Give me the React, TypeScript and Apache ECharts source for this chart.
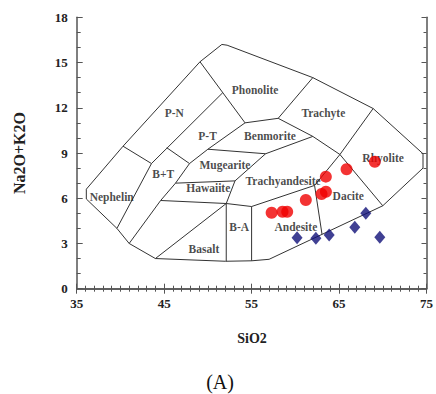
import React, { useEffect, useRef } from "react";
import * as echarts from "echarts";

const xTicks = [35, 45, 55, 65, 75];
const yTicks = [0, 3, 6, 9, 12, 15, 18];

// Field boundaries (SiO2, Na2O+K2O)
const outerBoundary = [
  [70, 5.5], [74.6, 8.0], [74.6, 8.95], [68.9, 11.95], [62.0, 14.0], [52.2, 16.15],
  [51.6, 16.2], [49.1, 15.05], [40.3, 9.45], [36.1, 6.6], [36.1, 5.95], [39.6, 4.0],
  [41.0, 3.0], [44.0, 2.0], [52.0, 1.82], [55.0, 1.85], [57.0, 1.95], [70, 5.5],
];
const pnLower = [[43.55, 8.3], [51.7, 13.0]];
const nephTop = [[40.3, 9.45], [43.55, 8.3]];
const nephRight = [[43.55, 8.3], [39.6, 4.0]];
const ptLeft = [[45.3, 9.35], [47.9, 8.3]];
const phonLeft = [[49.1, 15.05], [54.25, 11.0]];
const phonBottom = [[54.25, 11.0], [58.04, 11.3]];
const phonTrachyte = [[62.0, 14.0], [58.04, 11.3]];
const trachyteBottom = [[58.04, 11.3], [62.0, 10.1], [65.1, 8.9]];
const trachyteRhyolite = [[65.1, 8.9], [68.9, 11.95]];
const btRight = [[54.25, 11.0], [50.0, 9.25], [47.9, 8.3], [46.3, 7.0], [44.6, 5.85], [41.0, 3.0]];
const benmBottom = [[50.0, 9.25], [56.6, 8.95], [62.0, 10.1]];
const mugRight = [[56.6, 8.95], [53.1, 7.15], [52.1, 5.65]];
const hawTop = [[46.3, 7.0], [53.1, 7.15]];
const basaltTop = [[44.6, 5.85], [52.1, 5.65], [55.0, 5.45], [62.2, 6.85]];
const basaltDiag = [[52.1, 5.65], [44.0, 2.0]];
const baLeft = [[52.1, 5.65], [52.1, 1.82]];
const baRight = [[55.0, 5.45], [55.0, 1.85]];
const andDac = [[62.2, 6.85], [63.05, 3.62]];
const dacTop = [[62.2, 6.85], [65.1, 8.9]];
const dacRhy = [[65.1, 8.9], [70, 5.5]];

const boundaries = [
  outerBoundary, pnLower, nephTop, nephRight, ptLeft, phonLeft, phonBottom, phonTrachyte,
  trachyteBottom, trachyteRhyolite, btRight, benmBottom, mugRight, hawTop, basaltTop,
  basaltDiag, baLeft, baRight, andDac, dacTop, dacRhy,
];

const fieldNames = [
  "Phonolite", "Trachyte", "P-N", "P-T", "Benmorite", "Mugearite", "B+T", "Hawaiite",
  "Nephelin", "Trachyandesite", "Dacite", "Rhyolite", "Andesite", "B-A", "Basalt",
];
const fieldX = [55.4, 63.2, 46.15, 49.97, 57.1, 51.95, 44.9, 50.04, 39.0, 58.6, 66.05, 70.04, 60.06, 53.58, 49.55];
const fieldY = [13.17, 11.67, 11.67, 10.13, 10.13, 8.2, 7.6, 6.66, 6.1, 7.14, 6.15, 8.65, 4.11, 4.11, 2.63];

const redSiO2 = [57.29, 58.54, 59.07, 61.2, 63.0, 63.5, 63.49, 65.86, 69.09];
const redAlk = [5.04, 5.1, 5.1, 5.88, 6.28, 6.43, 7.43, 7.92, 8.42];
const blueSiO2 = [60.2, 62.35, 63.87, 66.8, 68.06, 69.66];
const blueAlk = [3.38, 3.34, 3.56, 4.07, 5.0, 3.41];

const SERIF = "'Liberation Serif', 'Times New Roman', serif";

export default function App() {
  const ref = useRef<HTMLDivElement>(null);
  useEffect(() => {
    if (!ref.current) return;
    const chart = echarts.init(ref.current, undefined, { renderer: "svg" });
    const axisLine = { show: true, lineStyle: { color: "#555", width: 1.5 } };
    const tick = { show: true, inside: true, length: 5, lineStyle: { color: "#555", width: 1 } };
    const minor = (n: number) => ({ show: true, splitNumber: n, length: 3, lineStyle: { color: "#555", width: 1 } });
    const label = { fontFamily: SERIF, fontWeight: "bold" as const, fontSize: 13, color: "#222" };

    const lineSeries = boundaries.map((b) => ({
      type: "line",
      data: b,
      showSymbol: false,
      symbol: "none",
      silent: true,
      z: 2,
      lineStyle: { color: "#333", width: 1 },
    }));

    chart.setOption({
      animation: false,
      grid: { left: 76.7, top: 17.3, width: 350, height: 271.4, containLabel: false },
      xAxis: [
        {
          type: "value", min: xTicks[0], max: xTicks[xTicks.length - 1], interval: 10, position: "bottom",
          axisLine, axisTick: tick, minorTick: minor(10), splitLine: { show: false },
          axisLabel: { ...label, margin: 8 },
        },
        {
          type: "value", min: 35, max: 75, interval: 10, position: "top",
          axisLine, axisTick: tick, minorTick: minor(10), splitLine: { show: false },
          axisLabel: { show: false },
        },
      ],
      yAxis: [
        {
          type: "value", min: yTicks[0], max: yTicks[yTicks.length - 1], interval: 3, position: "left",
          axisLine, axisTick: { ...tick, length: 6 }, minorTick: { ...minor(3), length: 4 }, splitLine: { show: false },
          axisLabel: { ...label, margin: 9 },
        },
        {
          type: "value", min: 0, max: 18, interval: 3, position: "right",
          axisLine, axisTick: tick, minorTick: minor(3), splitLine: { show: false },
          axisLabel: { show: false },
        },
      ],
      graphic: [
        {
          type: "text", x: 19, y: 153, rotation: Math.PI / 2,
          style: { text: "Na2O+K2O", font: `bold 16px ${SERIF}`, fill: "#222", align: "center", verticalAlign: "middle" },
        },
        {
          type: "text", x: 252, y: 338,
          style: { text: "SiO2", font: `bold 14px ${SERIF}`, fill: "#222", align: "center", verticalAlign: "middle" },
        },
        {
          type: "text", x: 220, y: 382,
          style: { text: "(A)", font: `20px ${SERIF}`, fill: "#111", align: "center", verticalAlign: "middle" },
        },
      ],
      series: [
        ...lineSeries,
        {
          type: "scatter",
          silent: true,
          z: 3,
          symbolSize: 1,
          itemStyle: { color: "transparent" },
          data: fieldNames.map((n, i) => ({ name: n, value: [fieldX[i], fieldY[i]] })),
          label: {
            show: true, position: "inside", formatter: "{b}",
            fontFamily: SERIF, fontWeight: "bold", fontSize: 11.5, color: "#1a1a1a",
          },
        },
        {
          type: "scatter",
          z: 4,
          symbol: "circle",
          symbolSize: 12,
          itemStyle: { color: "#f00000" },
          data: redSiO2.map((x, i) => [x, redAlk[i]]),
        },
        {
          type: "scatter",
          z: 5,
          symbol: "diamond",
          symbolSize: [11, 13],
          itemStyle: { color: "#101078" },
          data: blueSiO2.map((x, i) => [x, blueAlk[i]]),
        },
      ],
    });
    return () => chart.dispose();
  }, []);
  return (
    <div
      ref={ref}
      style={{ position: "absolute", left: 0, top: 0, width: 436, height: 394, background: "#fff" }}
    />
  );
}
